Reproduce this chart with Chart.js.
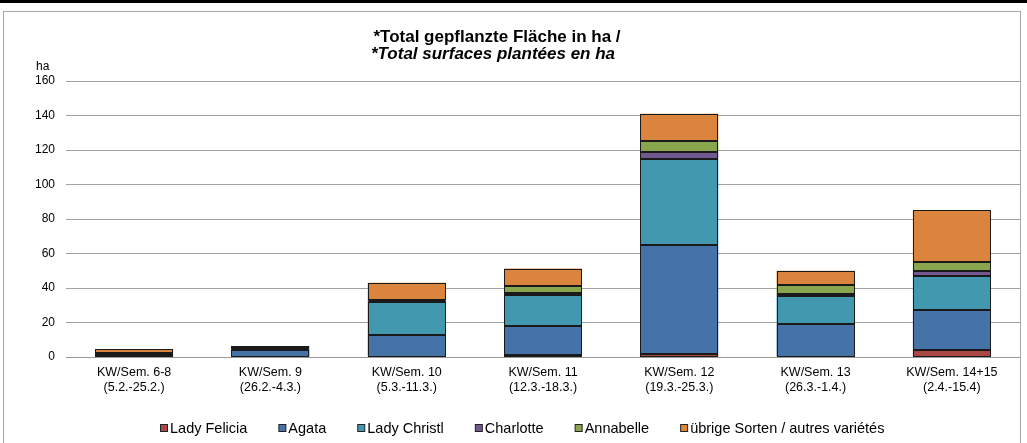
<!DOCTYPE html>
<html>
<head>
<meta charset="utf-8">
<script src="https://cdn.jsdelivr.net/npm/chart.js@4.4.1/dist/chart.umd.min.js"></script>
<style>
  html, body { margin: 0; padding: 0; background: #fff; overflow: hidden; }
  #wrap { position: relative; width: 1027px; height: 443px; }
  #c { position: absolute; left: 0; top: 0; }
  #topline { position: absolute; left: 0; top: 0; width: 1027px; height: 3px; background: #000; }
  #box { position: absolute; left: 3px; top: 11px; width: 1018px; height: 440px; border: 1px solid #a6a6a6; box-sizing: border-box; pointer-events: none; }
</style>
</head>
<body>
<div id="wrap">
  <canvas id="c" width="1027" height="443"></canvas>
  <div id="topline"></div>
  <div id="box"></div>
</div>
<script>
// ---- data ----
const categories = [
  ["KW/Sem. 6-8", "(5.2.-25.2.)"],
  ["KW/Sem. 9", "(26.2.-4.3.)"],
  ["KW/Sem. 10", "(5.3.-11.3.)"],
  ["KW/Sem. 11", "(12.3.-18.3.)"],
  ["KW/Sem. 12", "(19.3.-25.3.)"],
  ["KW/Sem. 13", "(26.3.-1.4.)"],
  ["KW/Sem. 14+15", "(2.4.-15.4)"]
];
const seriesNames = ["Lady Felicia", "Agata", "Lady Christl", "Charlotte", "Annabelle", "übrige Sorten / autres variétés"];
const ladyFelicia = [null, null, null, 1, 2, null, 4];
const agata       = [1.2, 4, 13, 17, 63, 19, 23];
const ladyChristl = [1, 0.8, 19, 18, 50, 16.5, 20];
const charlotte   = [0.2, 0.2, 0.5, 1.3, 4, 1, 3];
const annabelle   = [0.2, 0.2, 0.5, 4, 6, 5.5, 5];
const uebrige     = [2, 1, 10, 10, 16, 8, 30];
const yTicks = [0, 20, 40, 60, 80, 100, 120, 140, 160];
const titleLine1 = "*Total gepflanzte Fläche in ha /";
const titleLine2 = "*Total surfaces plantées en ha";
const yUnit = "ha";

const colors = ["#AA4643", "#4572A7", "#4198AF", "#71588F", "#89A54E", "#DB843D"];
const seriesData = [ladyFelicia, agata, ladyChristl, charlotte, annabelle, uebrige];
const FONT = "'Liberation Sans', Arial, sans-serif";

const datasets = seriesData.map((d, i) => ({
  label: seriesNames[i],
  data: d,
  backgroundColor: colors[i],
  borderWidth: 0,
  categoryPercentage: 1,
  barPercentage: 0.572
}));

const extras = {
  id: "extras",
  afterDatasetsDraw(chart) {
    const ctx = chart.ctx;
    ctx.save();
    ctx.strokeStyle = "#1a1a1a";
    ctx.lineWidth = 1;
    chart.data.datasets.forEach((ds, di) => {
      const meta = chart.getDatasetMeta(di);
      meta.data.forEach((el, i) => {
        if (ds.data[i] == null) return;
        const p = el.getProps(["x", "y", "base", "width"], true);
        const l = Math.round(p.x - p.width / 2) + 0.5;
        const r = Math.round(p.x + p.width / 2) - 0.5;
        const t = Math.round(Math.min(p.y, p.base)) + 0.5;
        const b = Math.round(Math.max(p.y, p.base)) - 0.5;
        ctx.strokeRect(l, t, r - l, Math.max(b - t, 0));
      });
    });
    ctx.restore();
  },
  afterDraw(chart) {
    const ctx = chart.ctx;
    const ys = chart.scales.y;
    ctx.save();
    // title
    ctx.fillStyle = "#000";
    ctx.textAlign = "center";
    ctx.textBaseline = "middle";
    ctx.font = "bold 17px " + FONT;
    ctx.fillText(titleLine1, 497, 37);
    ctx.font = "italic bold 17px " + FONT;
    ctx.fillText(titleLine2, 493, 54);
    // unit
    ctx.font = "12px " + FONT;
    ctx.textAlign = "left";
    ctx.fillText(yUnit, 36, ys.top - 14);
    // legend
    ctx.font = "14.5px " + FONT;
    const box = 7, gapText = 3, gapItem = 31;
    const widths = chart.data.datasets.map(ds => box + gapText + ctx.measureText(ds.label).width);
    const total = widths.reduce((a, b) => a + b, 0) + gapItem * (widths.length - 1);
    let x = Math.round(522 - total / 2);
    const y = 428;
    chart.data.datasets.forEach((ds, i) => {
      ctx.fillStyle = ds.backgroundColor;
      ctx.fillRect(x + 0.5, y - 3.5, box, box);
      ctx.strokeStyle = "#222";
      ctx.lineWidth = 1;
      ctx.strokeRect(x + 0.5, y - 3.5, box, box);
      ctx.fillStyle = "#000";
      ctx.textAlign = "left";
      ctx.textBaseline = "middle";
      ctx.fillText(ds.label, x + box + gapText, y + 1);
      x += widths[i] + gapItem;
    });
    ctx.restore();
  }
};

new Chart(document.getElementById("c"), {
  type: "bar",
  data: { labels: categories, datasets },
  options: {
    responsive: false,
    animation: false,
    layout: { padding: { top: 81, right: 7, bottom: 0, left: 0 } },
    plugins: { legend: { display: false }, title: { display: false }, tooltip: { enabled: false } },
    scales: {
      x: {
        stacked: true,
        grid: { display: false, drawTicks: false },
        border: { display: true, color: "#999", width: 1 },
        ticks: { color: "#000", font: { family: FONT, size: 12.5 }, padding: 8, maxRotation: 0, autoSkip: false },
        afterFit(s) { s.height = 86; }
      },
      y: {
        stacked: true,
        min: 0, max: 160,
        afterBuildTicks(s) { s.ticks = yTicks.map(v => ({ value: v })); },
        grid: { color: "#a0a0a0", lineWidth: 1, drawTicks: false },
        border: { display: false },
        ticks: { color: "#000", font: { family: FONT, size: 12 }, padding: 11 },
        afterFit(s) { s.width = 66; }
      }
    }
  },
  plugins: [extras]
});
</script>
</body>
</html>
